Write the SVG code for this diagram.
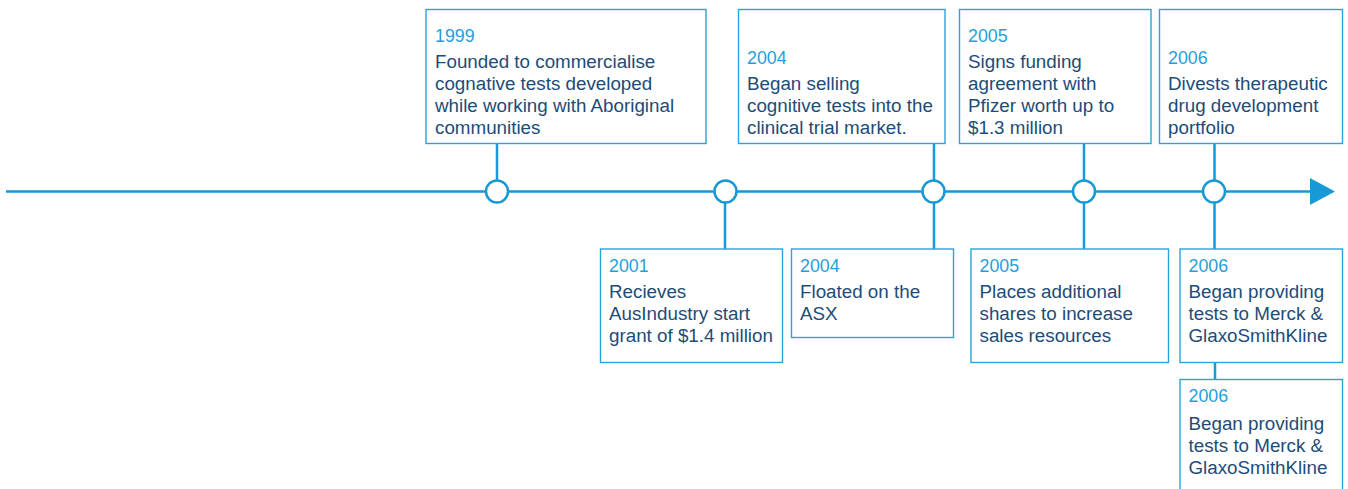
<svg xmlns="http://www.w3.org/2000/svg" width="1348" height="489" viewBox="0 0 1348 489">
<style>
.box{fill:#fff;stroke:#2aa3db;stroke-width:1.4}
.ln{stroke:#1799d6;stroke-width:2.5;fill:none}
.dot{fill:#fff;stroke:#1799d6;stroke-width:2.5}
text{font-family:"Liberation Sans",Arial,sans-serif;font-size:18.8px}
.yr{fill:#1fa0da;font-size:17.8px}
.bd{fill:#1d4c78}
</style>
<rect width="1348" height="489" fill="#fff"/>
<g id="connectors">
<line class="ln" x1="6" y1="191.5" x2="1312" y2="191.5"/>
<polygon points="1310,178 1335,191.5 1310,205" fill="#1799d6"/>
<line class="ln" x1="497" y1="143" x2="497" y2="191"/>
<line class="ln" x1="934" y1="143" x2="934" y2="191"/>
<line class="ln" x1="1084" y1="143" x2="1084" y2="191"/>
<line class="ln" x1="1214.5" y1="143" x2="1214.5" y2="191"/>
<line class="ln" x1="725" y1="191" x2="725" y2="249"/>
<line class="ln" x1="934" y1="191" x2="934" y2="249"/>
<line class="ln" x1="1084" y1="191" x2="1084" y2="249"/>
<line class="ln" x1="1214.5" y1="191" x2="1214.5" y2="249"/>
<line class="ln" x1="1215" y1="362" x2="1215" y2="380"/>
<circle class="dot" cx="497" cy="191.5" r="11"/>
<circle class="dot" cx="725.5" cy="191.5" r="11"/>
<circle class="dot" cx="933.5" cy="191.5" r="11"/>
<circle class="dot" cx="1084" cy="191.5" r="11"/>
<circle class="dot" cx="1214" cy="191.5" r="11"/>
</g>
<g id="n1999">
<rect class="box" x="426" y="9.5" width="280" height="134"/>
<text x="435" y="42" class="yr">1999</text>
<text class="bd"><tspan x="435" y="68">Founded to commercialise</tspan><tspan x="435" y="90">cognative tests developed</tspan><tspan x="435" y="112">while working with Aboriginal</tspan><tspan x="435" y="134">communities</tspan></text>
</g>
<g id="n2004a">
<rect class="box" x="738.5" y="9.5" width="206.5" height="134"/>
<text x="747" y="64" class="yr">2004</text>
<text class="bd"><tspan x="747" y="90">Began selling</tspan><tspan x="747" y="112">cognitive tests into the</tspan><tspan x="747" y="134">clinical trial market.</tspan></text>
</g>
<g id="n2005a">
<rect class="box" x="959.5" y="9.5" width="191.5" height="134"/>
<text x="968" y="42" class="yr">2005</text>
<text class="bd"><tspan x="968" y="68">Signs funding</tspan><tspan x="968" y="90">agreement with</tspan><tspan x="968" y="112">Pfizer worth up to</tspan><tspan x="968" y="134">$1.3 million</tspan></text>
</g>
<g id="n2006a">
<rect class="box" x="1159.5" y="9.5" width="183" height="134"/>
<text x="1168" y="64" class="yr">2006</text>
<text class="bd"><tspan x="1168" y="90">Divests therapeutic</tspan><tspan x="1168" y="112">drug development</tspan><tspan x="1168" y="134">portfolio</tspan></text>
</g>
<g id="n2001">
<rect class="box" x="600.5" y="249" width="182" height="113.5"/>
<text x="609" y="272" class="yr">2001</text>
<text class="bd"><tspan x="609" y="298">Recieves</tspan><tspan x="609" y="320">AusIndustry start</tspan><tspan x="609" y="342">grant of $1.4 million</tspan></text>
</g>
<g id="n2004b">
<rect class="box" x="791.5" y="249" width="162" height="88.5"/>
<text x="800" y="272" class="yr">2004</text>
<text class="bd"><tspan x="800" y="298">Floated on the</tspan><tspan x="800" y="320">ASX</tspan></text>
</g>
<g id="n2005b">
<rect class="box" x="971" y="249" width="197.5" height="113.5"/>
<text x="979.5" y="272" class="yr">2005</text>
<text class="bd"><tspan x="979.5" y="298">Places additional</tspan><tspan x="979.5" y="320">shares to increase</tspan><tspan x="979.5" y="342">sales resources</tspan></text>
</g>
<g id="n2006b">
<rect class="box" x="1180" y="249" width="162.5" height="113.5"/>
<text x="1188.5" y="272" class="yr">2006</text>
<text class="bd"><tspan x="1188.5" y="298">Began providing</tspan><tspan x="1188.5" y="320">tests to Merck &amp;</tspan><tspan x="1188.5" y="342">GlaxoSmithKline</tspan></text>
</g>
<g id="n2006c">
<rect class="box" x="1180" y="379.5" width="162.5" height="120"/>
<text x="1188.5" y="402" class="yr">2006</text>
<text class="bd"><tspan x="1188.5" y="430">Began providing</tspan><tspan x="1188.5" y="452">tests to Merck &amp;</tspan><tspan x="1188.5" y="473.5">GlaxoSmithKline</tspan></text>
</g>
</svg>
